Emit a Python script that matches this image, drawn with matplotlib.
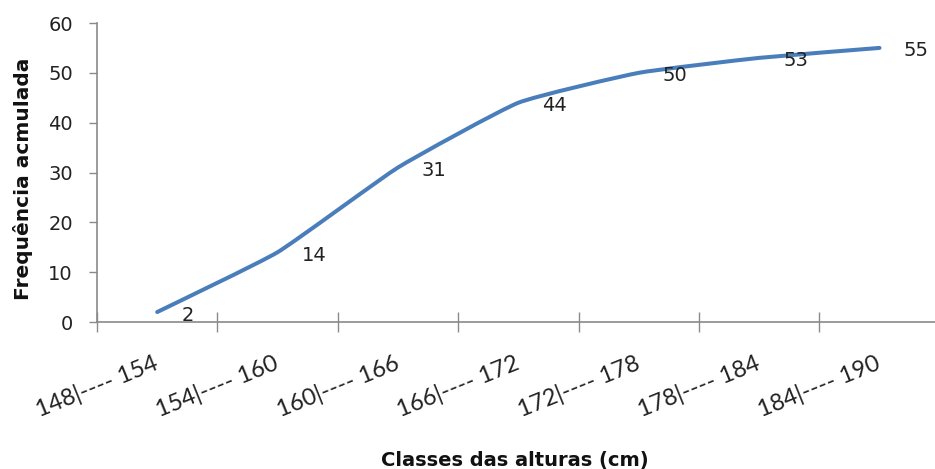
import matplotlib
matplotlib.use("Agg")
import matplotlib.pyplot as plt
from matplotlib.path import Path
from matplotlib.patches import PathPatch
from matplotlib.transforms import offset_copy
import numpy as np

categories = ["148|---- 154", "154|---- 160", "160|---- 166", "166|---- 172",
              "172|---- 178", "178|---- 184", "184|---- 190"]
values = [2, 14, 31, 44, 50, 53, 55]
yticks = [0, 10, 20, 30, 40, 50, 60]
xlabel = "Classes das alturas (cm)"
ylabel = "Frequência acmulada"

DPI = 100
fig = plt.figure(figsize=(9.35, 4.69), dpi=DPI)
ax = fig.add_axes([97/935, 1-322/469, 842.7/935, (322-23)/469])

n = len(values)
xs = np.arange(n, dtype=float)
ys = np.array(values, dtype=float)

# lightly smoothed line through the data points
P = np.column_stack([xs, ys])
Pext = np.vstack([P[0], P, P[-1]])
k = 1.0 / 14.0
verts = [tuple(P[0])]
codes = [Path.MOVETO]
for i in range(n - 1):
    p0, p1, p2, p3 = Pext[i], Pext[i+1], Pext[i+2], Pext[i+3]
    c1 = p1 + (p2 - p0) * k
    c2 = p2 - (p3 - p1) * k
    verts += [tuple(c1), tuple(c2), tuple(p2)]
    codes += [Path.CURVE4] * 3
line = PathPatch(Path(verts, codes), facecolor="none", edgecolor="#4a7ebb",
                 linewidth=2.9, capstyle="round", joinstyle="round")
ax.add_patch(line)

ax.set_xlim(-0.5, n - 0.5)
ax.set_ylim(0, 60)

# data labels
lab_tr = offset_copy(ax.transData, fig=fig, x=24, y=-3, units="dots")
for x, v in zip(xs, values):
    ax.text(x, v, str(v), transform=lab_tr, ha="left", va="center",
            fontsize=14, family="DejaVu Sans", color="#222222")

grey = "#8a8a8a"
for s in ["top", "right"]:
    ax.spines[s].set_visible(False)
for s in ["left", "bottom"]:
    ax.spines[s].set_color(grey)
    ax.spines[s].set_linewidth(1.2)

ax.set_yticks(yticks)
ax.set_yticklabels([str(t) for t in yticks])
ax.tick_params(axis="y", direction="out", length=5.8, width=1.0, color=grey,
               pad=11.5, labelsize=14, labelcolor="#222222")

ax.set_xticks(np.arange(n + 1) - 0.5)
ax.set_xticklabels([])
ax.tick_params(axis="x", which="major", direction="inout", length=14.4,
               width=1.0, color=grey)
ax.set_xticks(xs, minor=True)
ax.set_xticklabels(categories, minor=True, rotation=22, ha="right",
                   va="center", rotation_mode="anchor",
                   family=["Lato", "DejaVu Sans"], fontsize=17, color="#222222")
ax.tick_params(axis="x", which="minor", length=0, pad=29)

fig.text(23/935, 1-179/469, ylabel, rotation=90, ha="center", va="center",
         fontsize=14.5, fontweight="bold",
         family=["DejaVu Sans"], color="#111111")
fig.text(515/935, 1-460/469, xlabel, ha="center", va="center",
         fontsize=14, fontweight="bold",
         family=["DejaVu Sans"], color="#111111")

fig.savefig("out.png", dpi=DPI)
